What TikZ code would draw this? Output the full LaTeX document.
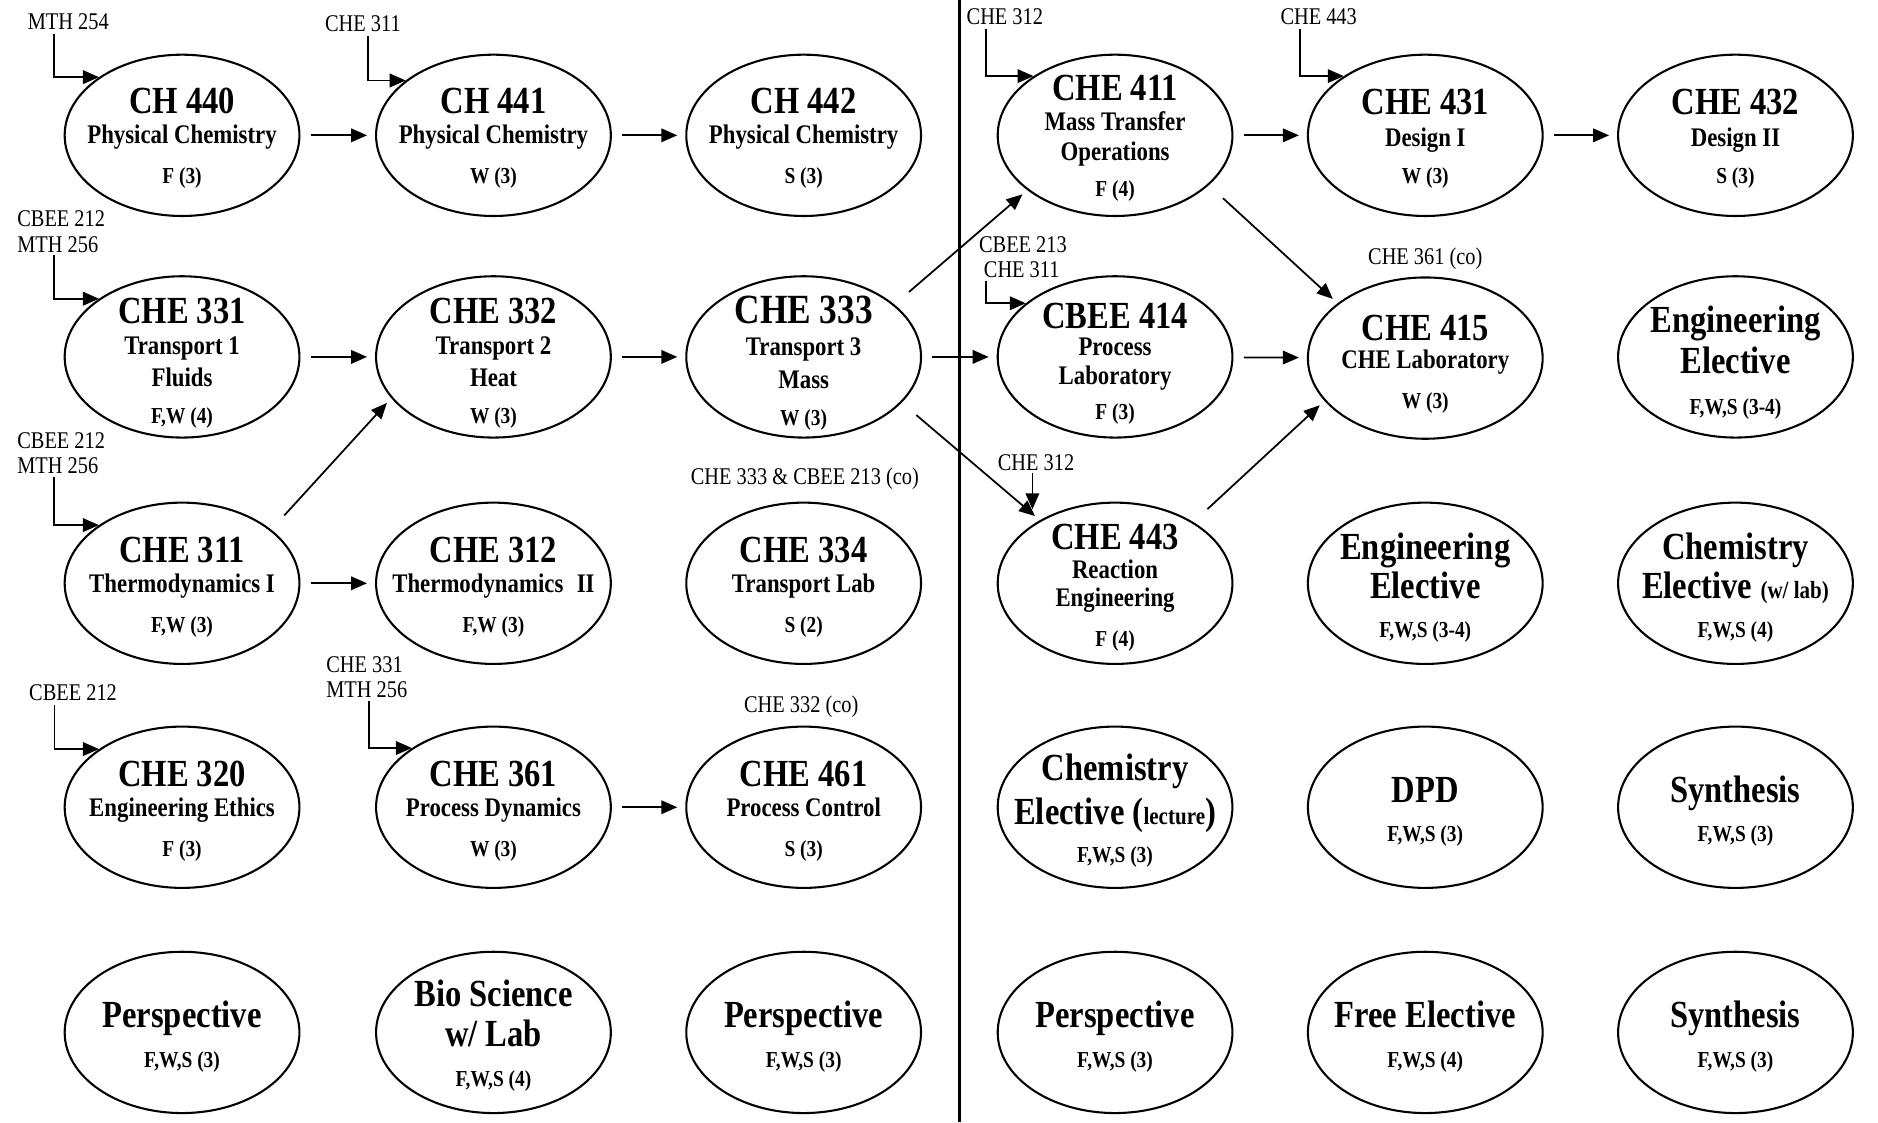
\documentclass[tikz,border=0pt]{standalone}
\usepackage{fontspec}
\setmainfont[FakeStretch=0.85]{Liberation Serif}
\usetikzlibrary{shapes.geometric,arrows.meta,calc}

\newcommand{\fsmall}{\fontsize{15.5}{17}\selectfont}

\tikzset{every picture/.style={line width=0.75pt}}
\tikzset{
	course/.style={ellipse, draw, line width=1.3pt, minimum width=147pt, minimum height=101pt, inner sep=0pt},
	ccode/.style={anchor=base, inner sep=0pt, font=\fontsize{24}{27}\selectfont\bfseries},
	ccodeL/.style={anchor=base, inner sep=0pt, font=\fontsize{26}{29}\selectfont\bfseries},
	cbig/.style={anchor=base, inner sep=0pt, font=\fontsize{24}{27}\selectfont\bfseries},
	csub/.style={anchor=base, inner sep=0pt, font=\fontsize{16.8}{19}\selectfont\bfseries},
	cterm/.style={anchor=base, inner sep=0pt, font=\fontsize{14.3}{16}\selectfont\bfseries},
	prereq/.style={inner sep=0pt, align=left, font=\fontsize{15}{15.75}\selectfont},
	arr/.style={-{Triangle[length=10pt,width=8.5pt]}, line width=1.1pt},
	nxt/.style={arr, shorten <=6.5pt, shorten >=5pt},
	diag/.style={arr, shorten <=12pt, shorten >=4pt}
}

\begin{document}
\begin{tikzpicture}[x=0.75pt,y=0.75pt,yscale=-1,xscale=1]
	\useasboundingbox (0,0) rectangle (1568,937);

	% year divider
	\draw [line width=1.5pt] (801,0) -- (801,937) ;

	% course ellipses
	\foreach \nm/\cx/\cy in {
		ch440/152/113, ch441/412/113, ch442/671/113,
		che331/152/298, che332/412/298, che333/671/298,
		che311/152/487, che312/412/487, che334/671/487,
		che320/152/674, che361/412/674, che461/671/674,
		persp1/152/862, bio/412/862, persp2/671/862,
		che411/931/113, che431/1190/113, che432/1449/113,
		cbee414/931/298, che415/1190/299, engel1/1449/298,
		che443/931/487, engel2/1190/487, chemel1/1449/487,
		chemel2/931/674, dpd/1190/674, synth1/1449/674,
		persp3/931/862, freeel/1190/862, synth2/1449/862}
		\node [course] (\nm) at (\cx,\cy) {};

	% texts inside the ellipses
	\foreach \nm/\k/\dy/\st/\txt in {
		ch440/a/-18/ccode/CH 440, ch440/b/7/csub/Physical Chemistry, ch440/c/40/cterm/F (3),
		ch441/a/-18/ccode/CH 441, ch441/b/7/csub/Physical Chemistry, ch441/c/40/cterm/W (3),
		ch442/a/-18/ccode/CH 442, ch442/b/7/csub/Physical Chemistry, ch442/c/40/cterm/S (3),
		che331/a/-28/ccode/CHE 331, che331/b/-2/csub/Transport 1, che331/c/25/csub/Fluids, che331/d/56/cterm/{F,W (4)},
		che332/a/-28/ccode/CHE 332, che332/b/-2/csub/Transport 2, che332/c/25/csub/Heat, che332/d/56/cterm/W (3),
		che333/a/-28/ccodeL/CHE 333, che333/b/-1/csub/Transport 3, che333/c/26/csub/Mass, che333/d/57/cterm/W (3),
		che311/a/-17/ccode/CHE 311, che311/b/8/csub/Thermodynamics I, che311/c/41/cterm/{F,W (3)},
		che312/a/-17/ccode/CHE 312, che312/b/8/csub/Thermodynamics\enspace II, che312/c/41/cterm/{F,W (3)},
		che334/a/-17/ccode/CHE 334, che334/b/8/csub/Transport Lab, che334/c/41/cterm/S (2),
		che320/a/-17/ccode/CHE 320, che320/b/8/csub/Engineering Ethics, che320/c/41/cterm/F (3),
		che361/a/-17/ccode/CHE 361, che361/b/8/csub/Process Dynamics, che361/c/41/cterm/W (3),
		che461/a/-17/ccode/CHE 461, che461/b/8/csub/Process Control, che461/c/41/cterm/S (3),
		persp1/a/-4/cbig/Perspective, persp1/b/29/cterm/{F,W,S (3)},
		bio/a/-22/cbig/Bio Science, bio/b/12/cbig/{w/ Lab}, bio/c/45/cterm/{F,W,S (4)},
		persp2/a/-4/cbig/Perspective, persp2/b/29/cterm/{F,W,S (3)},
		che411/a/-29/ccode/CHE 411, che411/b/-4/csub/Mass Transfer, che411/c/21/csub/Operations, che411/d/51/cterm/F (4),
		che431/a/-17/ccode/CHE 431, che431/b/9/csub/Design I, che431/c/40/cterm/W (3),
		che432/a/-17/ccode/CHE 432, che432/b/9/csub/Design II, che432/c/40/cterm/S (3),
		cbee414/a/-24/ccode/CBEE 414, cbee414/b/-1/csub/Process, cbee414/c/23/csub/Laboratory, cbee414/d/52/cterm/F (3),
		che415/a/-15/ccode/CHE 415, che415/b/9/csub/CHE Laboratory, che415/c/42/cterm/W (3),
		engel1/a/-20/cbig/Engineering, engel1/b/14/cbig/Elective, engel1/c/48/cterm/{F,W,S (3-4)},
		che443/a/-28/ccode/CHE 443, che443/b/-4/csub/Reaction, che443/c/19/csub/Engineering, che443/d/53/cterm/F (4),
		engel2/a/-20/cbig/Engineering, engel2/b/13/cbig/Elective, engel2/c/45/cterm/{F,W,S (3-4)},
		chemel1/a/-20/cbig/Chemistry, chemel1/b/13/cbig/{Elective {\fsmall (w/ lab)}}, chemel1/c/45/cterm/{F,W,S (4)},
		chemel2/a/-22/cbig/Chemistry, chemel2/b/14/cbig/{Elective ({\fsmall lecture})}, chemel2/c/46/cterm/{F,W,S (3)},
		dpd/a/-4/cbig/DPD, dpd/b/29/cterm/{F,W,S (3)},
		synth1/a/-4/cbig/Synthesis, synth1/b/29/cterm/{F,W,S (3)},
		persp3/a/-4/cbig/Perspective, persp3/b/29/cterm/{F,W,S (3)},
		freeel/a/-4/cbig/Free Elective, freeel/b/29/cterm/{F,W,S (4)},
		synth2/a/-4/cbig/Synthesis, synth2/b/29/cterm/{F,W,S (3)}}
		\node [\st] (\nm\k) at ($(\nm)+(0,\dy)$) {\txt};

	% prerequisites
	\node [prereq] (pch440) at (57,18) {MTH 254};
	\node [prereq] (pch441) at (303,20) {CHE 311};
	\node [prereq, anchor=west] (pche331) at (14,193.5) {CBEE 212\\MTH 256};
	\node [prereq, anchor=west] (pche311) at (14,378.5) {CBEE 212\\MTH 256};
	\node [prereq] (pche320) at (61,578) {CBEE 212};
	\node [prereq, anchor=west] (pche361) at (272,565.5) {CHE 331\\MTH 256};
	\node [prereq] (pche411) at (839,14) {CHE 312};
	\node [prereq] (pche431) at (1101,14) {CHE 443};
	\node [prereq, anchor=west] (pcbee414) at (817,214.5) {CBEE 213\\\hspace{3pt}CHE 311};
	\node [prereq] (pche443) at (865,386) {CHE 312};
	\node [prereq] (pche415) at (1190,216) {CHE 361 (co)};
	\node [prereq] (pche334) at (672,400) {CHE 333 \& CBEE 213 (co)};
	\node [prereq] (pche461) at (669,590) {CHE 332 (co)};

	% prerequisite brackets
	\draw [arr] (pch440.south west) ++(22.5,3) |- (ch440.145) ;
	\draw [arr] (pch441.south west) ++(36.5,3) |- (ch441.148) ;
	\draw [arr] (pche331.south west) ++(31,2) |- (che331.145) ;
	\draw [arr] (pche311.south west) ++(31,2) |- (che311.145) ;
	\draw [arr] (pche320.south west) ++(21.5,3) |- (che320.145) ;
	\draw [arr] (pche361.south west) ++(36,2) |- (che361.144) ;
	\draw [arr] (pche411.south west) ++(16.5,3) |- (che411.144) ;
	\draw [arr] (pche431.south west) ++(16.5,3) |- (che431.144) ;
	\draw [arr] (pcbee414.south west) ++(6,2) |- (cbee414.149) ;
	\draw [arr] (pche443.south) ++(-3,2) -- ++(0,30) ;

	% sequence arrows
	\draw [nxt] (ch440) -- (ch441) ;
	\draw [nxt] (ch441) -- (ch442) ;
	\draw [nxt] (che411) -- (che431) ;
	\draw [nxt] (che431) -- (che432) ;
	\draw [nxt] (che331) -- (che332) ;
	\draw [nxt] (che332) -- (che333) ;
	\draw [nxt] (che333) -- (cbee414) ;
	\draw [nxt] (cbee414) -- (che415) ;
	\draw [nxt] (che311) -- (che312) ;
	\draw [nxt] (che361) -- (che461) ;
	\draw [diag] (che311.31) -- (che332.202) ;
	\draw [diag] (che333.30) -- (che411.212) ;
	\draw [diag] (che333.-25) -- (che443.140) ;
	\draw [diag] (che411.-28) -- (che415.148) ;
	\draw [diag] (che443.38) -- (che415.203) ;

\end{tikzpicture}
\end{document}
